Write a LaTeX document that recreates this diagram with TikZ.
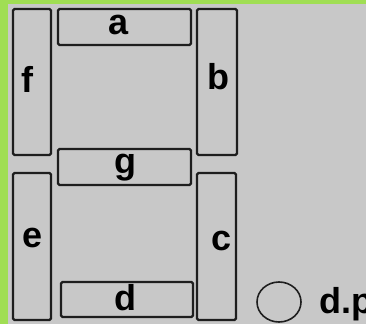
\documentclass[tikz,border=0pt]{standalone}
\usepackage{fontspec}
\setmainfont{Liberation Sans}
\usetikzlibrary{shapes.geometric}
\definecolor{bggreen}{RGB}{160,222,84}
\definecolor{bggray}{RGB}{200,200,200}
\definecolor{segline}{RGB}{30,30,30}
\begin{document}
\begin{tikzpicture}[x=1pt,y=-1pt,
  seg/.style={draw=segline,line width=2.2pt,rounded corners=1.5pt,inner sep=0pt},
  lbl/.style={inner sep=0pt,anchor=base,font=\fontsize{36}{36}\selectfont\bfseries}]
\fill[bggreen] (0,0) rectangle (366,324);
\fill[bggray] (8,4) rectangle (366,324);
\useasboundingbox (0,0) rectangle (366,324);
% segments
\node[seg,minimum width=133pt,minimum height=36pt] (a) at (124.5,27) {};
\node[seg,minimum width=38pt,minimum height=146pt] (f) at (32,82) {};
\node[seg,minimum width=40pt,minimum height=146pt] (b) at (217,82) {};
\node[seg,minimum width=133pt,minimum height=36pt] (g) at (124.5,167) {};
\node[seg,minimum width=38pt,minimum height=147pt] (e) at (32,246.5) {};
\node[seg,minimum width=39pt,minimum height=147pt] (c) at (216.5,246.5) {};
\node[seg,minimum width=132pt,minimum height=35pt] (d) at (127,299.5) {};
\node[lbl] (la) at (118.5,34) {a};
\node[lbl] (lf) at (27,92) {f};
\node[lbl] (lb) at (218.5,89) {b};
\node[lbl] (lg) at (125,173) {g};
\node[lbl] (le) at (32.5,247) {e};
\node[lbl] (lc) at (222,250) {c};
\node[lbl] (ld) at (125,310) {d};
% decimal point
\node[draw=segline,line width=1.6pt,ellipse,minimum width=44pt,minimum height=40pt,inner sep=0pt] (dp) at (279,302) {};
\node[lbl,anchor=base west] (ldp) at (319,313) {d.p};
\end{tikzpicture}
\end{document}
